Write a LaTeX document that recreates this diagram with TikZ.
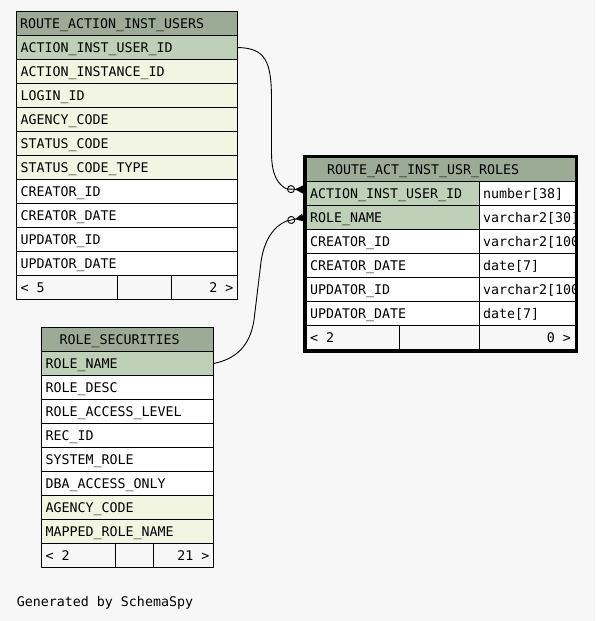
\documentclass[tikz,border=0pt]{standalone}
\usepackage{fontspec}
\newfontfamily\dbfont{DejaVu Sans Mono}
\usetikzlibrary{arrows.meta,calc}
\definecolor{pagebg}{HTML}{F7F7F7}
\definecolor{headbg}{HTML}{9BAB96}
\definecolor{keybg}{HTML}{BED1B8}
\definecolor{idxbg}{HTML}{F2F5E2}
\newcommand{\gap}{\hspace{8pt}}

\begin{document}
\begin{tikzpicture}[x=1pt, y=-1pt, font=\dbfont\fontsize{13.3}{16}\selectfont,
  cell/.style={draw, line width=0.9pt, outer sep=0pt, inner xsep=4pt, inner ysep=0pt,
    anchor=north west, minimum height=24pt, text height=9.7pt, text depth=0pt,
    text width=#1, align=left},
  cellr/.style={cell=#1, align=right},
  head/.style={cell=#1, fill=headbg},
  rel/.style={line width=0.9pt,
    -{Circle[open,length=8pt,width=8pt] Triangle[reversed,length=8pt,width=8pt]}}]
  \fill[pagebg] (0,0) rectangle (595,621);

  % ROUTE_ACTION_INST_USERS
  \node[head=214pt, inner xsep=3.5pt] (users) at (16.5,11.5) {ROUTE\_ACTION\_INST\_USERS};
  \foreach \n/\c [count=\i] in {ACTION\_INST\_USER\_ID/keybg, ACTION\_INSTANCE\_ID/idxbg,
      LOGIN\_ID/idxbg, AGENCY\_CODE/idxbg, STATUS\_CODE/idxbg, STATUS\_CODE\_TYPE/idxbg,
      CREATOR\_ID/white, CREATOR\_DATE/white, UPDATOR\_ID/white, UPDATOR\_DATE/white}
    \node[cell=213pt, fill=\c] (u\i) at (16.5,{11.5+24*\i}) {\n};
  \node[cell=93pt] (uf1) at (16.5,275.5) {<\gap5};
  \node[cell=46pt] (uf2) at (117.5,275.5) {};
  \node[cellr=58pt] (uf3) at (171.5,275.5) {2\gap>};

  % ROLE_SECURITIES
  \node[head=136pt, inner xsep=18pt] (sec) at (41.5,327.5) {ROLE\_SECURITIES};
  \foreach \n/\c [count=\i] in {ROLE\_NAME/keybg, ROLE\_DESC/white, ROLE\_ACCESS\_LEVEL/white,
      REC\_ID/white, SYSTEM\_ROLE/white, DBA\_ACCESS\_ONLY/white, AGENCY\_CODE/idxbg,
      MAPPED\_ROLE\_NAME/idxbg}
    \node[cell=164pt, fill=\c] (s\i) at (41.5,{327.5+24*\i}) {\n};
  \node[cell=66pt] (sf1) at (41.5,543.5) {<\gap2};
  \node[cell=30pt] (sf2) at (115.5,543.5) {};
  \node[cellr=52pt] (sf3) at (153.5,543.5) {21\gap>};

  % ROUTE_ACT_INST_USR_ROLES
  \begin{scope}
    \clip (300,150) rectangle (576.5,355);
    \node[head=227pt, inner xsep=21pt] (rolesh) at (306,157.5) {ROUTE\_ACT\_INST\_USR\_ROLES};
    \foreach \n/\t/\c [count=\i] in {ACTION\_INST\_USER\_ID/number[38]/keybg,
        ROLE\_NAME/varchar2[30]/keybg, CREATOR\_ID/varchar2[100]/white,
        CREATOR\_DATE/date[7]/white, UPDATOR\_ID/varchar2[100]/white,
        UPDATOR\_DATE/date[7]/white} {
      \node[cell=165pt, fill=\c] (r\i) at (306,{157.5+24*\i}) {\n};
      \node[cell=88pt, fill=white] (t\i) at (479,{157.5+24*\i}) {\t};
    }
    \node[cell=85pt] (rf1) at (306,325.5) {<\gap2};
    \node[cell=72pt] (rf2) at (399,325.5) {};
    \node[cellr=88pt] (rf3) at (479,325.5) {0\gap>};
  \end{scope}
  \node[draw, line width=3pt, minimum width=272pt, minimum height=195pt, inner sep=0pt,
    anchor=north west] (roles) at (303,154.5) {};

  % relations
  \draw[rel] (u1.east) .. controls (266,48) and (271.5,62) .. (271.5,100) -- (271.5,152)
    .. controls (271.5,176) and (278,184) .. (286.5,189) -- ($(roles.west |- r1.west)+(0,-4)$);
  \draw[rel] (s1.east) .. controls (236,359) and (250,346) .. (254,320) -- (261,262)
    .. controls (264,240) and (274,226) .. (286.5,221) -- (roles.west |- r2.west);

  \node[anchor=base west, inner sep=0pt] (gen) at (16.7,606.7) {Generated by SchemaSpy};
\end{tikzpicture}
\end{document}
